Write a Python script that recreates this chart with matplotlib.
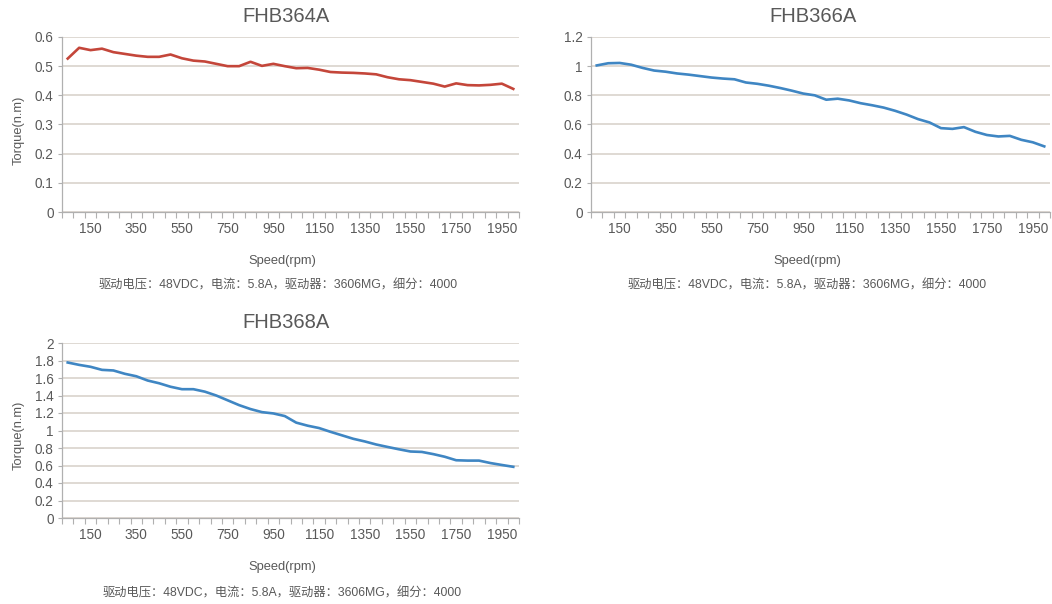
import numpy as np
import matplotlib.pyplot as plt
from matplotlib.ticker import FuncFormatter, MultipleLocator

# Speed categories (rpm), 50..2000
speed = np.arange(50, 2001, 50)

torque_364 = [0.526, 0.563, 0.555, 0.560, 0.548, 0.542, 0.536, 0.532, 0.532, 0.540,
              0.527, 0.519, 0.516, 0.508, 0.500, 0.500, 0.515, 0.501, 0.508, 0.500,
              0.493, 0.494, 0.488, 0.480, 0.478, 0.477, 0.475, 0.472, 0.462, 0.455,
              0.452, 0.446, 0.440, 0.430, 0.441, 0.435, 0.434, 0.436, 0.440, 0.422]

torque_366 = [1.005, 1.020, 1.022, 1.010, 0.988, 0.970, 0.962, 0.950, 0.942, 0.932,
              0.922, 0.915, 0.910, 0.888, 0.879, 0.866, 0.850, 0.832, 0.812, 0.800,
              0.770, 0.777, 0.765, 0.746, 0.732, 0.716, 0.694, 0.668, 0.637, 0.614,
              0.575, 0.570, 0.582, 0.550, 0.528, 0.518, 0.522, 0.495, 0.478, 0.450]

torque_368 = [1.777, 1.750, 1.728, 1.693, 1.686, 1.648, 1.620, 1.571, 1.540, 1.500,
              1.472, 1.472, 1.444, 1.400, 1.345, 1.290, 1.245, 1.210, 1.195, 1.165,
              1.090, 1.055, 1.028, 0.985, 0.945, 0.905, 0.875, 0.840, 0.812, 0.785,
              0.760, 0.755, 0.730, 0.700, 0.660, 0.656, 0.656, 0.628, 0.606, 0.585]

x_labels = [150, 350, 550, 750, 950, 1150, 1350, 1550, 1750, 1950]
caption = '驱动电压：48VDC，电流：5.8A，驱动器：3606MG，细分：4000'

W, H = 1052, 604
LAT = ['Liberation Sans', 'DejaVu Sans']
CJK = ['Liberation Sans', 'Noto Sans CJK SC', 'DejaVu Sans']
TXT = '#595959'
GRID = '#d6cfc8'
AXC = '#b0b0b0'


def box(l, t, r, b):
    return [l / W, 1 - b / H, (r - l) / W, (b - t) / H]


def style(ax, ymax, ystep):
    ax.set_xlim(25, 2025)
    ax.set_ylim(0, ymax)
    ax.yaxis.set_major_locator(MultipleLocator(ystep))
    ax.yaxis.set_major_formatter(FuncFormatter(lambda v, p: '%g' % round(v, 2)))
    ax.set_xticks(x_labels)
    ax.set_xticks(np.arange(25, 2026, 50), minor=True)
    ax.tick_params(axis='x', which='major', length=0, pad=7, labelsize=9.8, labelcolor=TXT)
    ax.tick_params(axis='x', which='minor', length=4, width=0.8, color=AXC)
    ax.tick_params(axis='y', length=3, width=0.8, color=AXC, pad=3, labelsize=9.8, labelcolor=TXT)
    for lab in ax.get_xticklabels() + ax.get_yticklabels():
        lab.set_family(LAT)
    ax.grid(axis='y', color=GRID, lw=1.1)
    ax.set_axisbelow(True)
    for s in ['top', 'right']:
        ax.spines[s].set_visible(False)
    for s in ['left', 'bottom']:
        ax.spines[s].set_color(AXC)
        ax.spines[s].set_linewidth(0.9)


fig = plt.figure(figsize=(W / 100, H / 100), dpi=100)

ax1 = fig.add_axes(box(62, 37, 519, 212))
ax1.plot(speed, torque_364, color='#c4463a', lw=1.9)
style(ax1, 0.6, 0.1)

ax2 = fig.add_axes(box(591, 37, 1050, 212))
ax2.plot(speed, torque_366, color='#3f86c3', lw=1.9)
style(ax2, 1.2, 0.2)

ax3 = fig.add_axes(box(62, 343, 519, 518))
ax3.plot(speed, torque_368, color='#3f86c3', lw=1.9)
style(ax3, 2.0, 0.2)


def ftext(x, y, s, **kw):
    fig.text(x / W, 1 - y / H, s, ha='center', va='center', color=TXT, **kw)


# titles
ftext(286, 17, 'FHB364A', fontsize=14.5, family=LAT)
ftext(813, 17, 'FHB366A', fontsize=14.5, family=LAT)
ftext(286, 323, 'FHB368A', fontsize=14.5, family=LAT)

# axis labels
ftext(282, 261, 'Speed(rpm)', fontsize=9.3, family=LAT)
ftext(807, 261, 'Speed(rpm)', fontsize=9.3, family=LAT)
ftext(282, 567, 'Speed(rpm)', fontsize=9.3, family=LAT)
ftext(19, 130, 'Torque(n.m)', fontsize=9.3, family=LAT, rotation=90)
ftext(19, 435, 'Torque(n.m)', fontsize=9.3, family=LAT, rotation=90)

# captions
ftext(278, 286, caption, fontsize=8.8, family=CJK)
ftext(807, 286, caption, fontsize=8.8, family=CJK)
ftext(282, 593, caption, fontsize=8.8, family=CJK)

fig.savefig('out.png', dpi=100)
